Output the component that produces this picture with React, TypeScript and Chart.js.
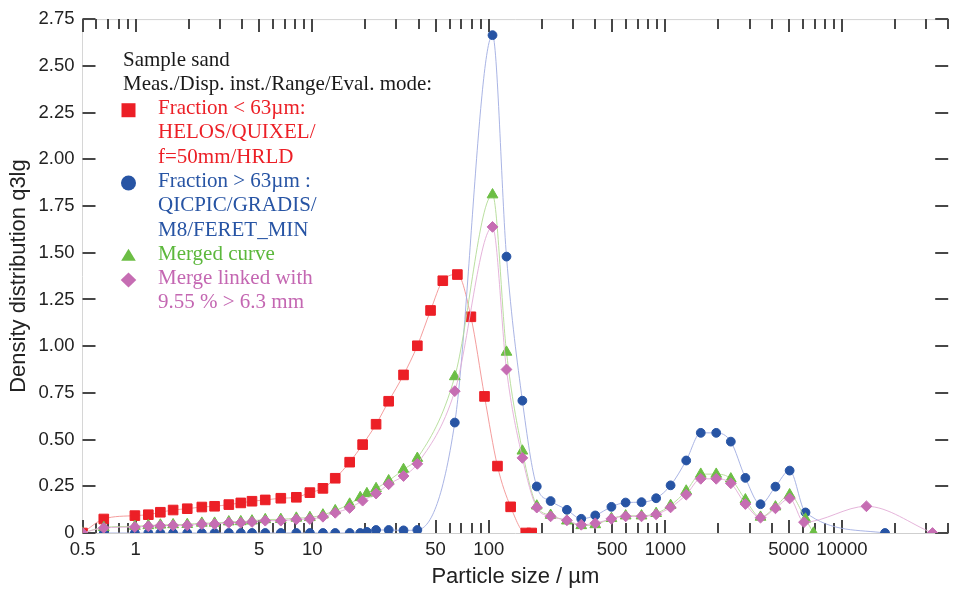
import React, { useEffect, useRef } from 'react';
import { Chart, registerables } from 'chart.js';

Chart.register(...registerables);

// ---------- data ----------
const redX = [0.5, 0.66, 0.99, 1.18, 1.38, 1.63, 1.96, 2.37, 2.8, 3.37, 3.94, 4.56, 5.42, 6.64, 8.13, 9.7, 11.5, 13.5, 16.3, 19.3, 23.0, 27.1, 32.9, 39.4, 46.8, 54.9, 66.4, 79.2, 94.6, 112, 133, 162, 175];
const redY = [0, 0.075, 0.093, 0.098, 0.111, 0.123, 0.130, 0.139, 0.143, 0.152, 0.161, 0.170, 0.177, 0.186, 0.191, 0.216, 0.239, 0.293, 0.379, 0.473, 0.582, 0.705, 0.846, 1.002, 1.191, 1.350, 1.383, 1.157, 0.731, 0.358, 0.140, 0, 0];

const blueX = [0.66, 0.99, 1.18, 1.38, 1.63, 1.96, 2.37, 2.8, 3.37, 3.94, 4.56, 5.42, 6.64, 8.13, 9.7, 11.5, 13.5, 16.3, 18.7, 20.4, 23.0, 27.1, 32.9, 39.4, 64.2, 105, 126, 155, 187, 224, 277, 334, 401, 495, 596, 733, 887, 1071, 1313, 1587, 1942, 2349, 2840, 3460, 4204, 5058, 6220, 17550];
const blueY = [0, 0, 0, 0, 0, 0, 0, 0, 0, 0, 0, 0, 0, 0, 0, 0, 0, 0, 0, 0.006, 0.016, 0.016, 0.014, 0.016, 0.591, 2.664, 1.479, 0.708, 0.249, 0.171, 0.124, 0.076, 0.094, 0.140, 0.163, 0.165, 0.186, 0.255, 0.388, 0.536, 0.536, 0.489, 0.295, 0.154, 0.248, 0.334, 0.110, 0];

const greenX = [0.5, 0.66, 0.99, 1.18, 1.38, 1.63, 1.96, 2.37, 2.8, 3.37, 3.94, 4.56, 5.42, 6.64, 8.13, 9.7, 11.5, 13.5, 16.3, 18.7, 20.4, 23.0, 27.1, 32.9, 39.4, 64.2, 105, 126, 155, 187, 224, 277, 334, 401, 495, 596, 733, 887, 1071, 1313, 1587, 1942, 2349, 2840, 3460, 4204, 5058, 6220, 6900];
const greenY = [0, 0.03, 0.036, 0.04, 0.043, 0.045, 0.046, 0.053, 0.053, 0.06, 0.061, 0.065, 0.072, 0.073, 0.08, 0.083, 0.097, 0.12, 0.155, 0.19, 0.211, 0.238, 0.28, 0.34, 0.40, 0.837, 1.810, 0.968, 0.439, 0.145, 0.095, 0.065, 0.04, 0.045, 0.078, 0.092, 0.092, 0.105, 0.148, 0.225, 0.315, 0.315, 0.29, 0.178, 0.085, 0.14, 0.205, 0.075, 0];

const pinkX = [0.5, 0.66, 0.99, 1.18, 1.38, 1.63, 1.96, 2.37, 2.8, 3.37, 3.94, 4.56, 5.42, 6.64, 8.13, 9.7, 11.5, 13.5, 16.3, 19.3, 23.0, 27.1, 32.9, 39.4, 64.2, 105, 126, 155, 187, 224, 277, 334, 401, 495, 596, 733, 887, 1071, 1313, 1587, 1942, 2349, 2840, 3460, 4204, 5058, 6100, 13770, 32600];
const pinkY = [0, 0.027, 0.032, 0.036, 0.039, 0.041, 0.041, 0.048, 0.048, 0.055, 0.055, 0.059, 0.066, 0.066, 0.073, 0.075, 0.087, 0.108, 0.134, 0.173, 0.211, 0.261, 0.305, 0.37, 0.759, 1.638, 0.875, 0.402, 0.136, 0.089, 0.068, 0.044, 0.052, 0.076, 0.089, 0.089, 0.100, 0.137, 0.205, 0.290, 0.290, 0.266, 0.155, 0.082, 0.132, 0.185, 0.058, 0.143, 0];

// ---------- axes ----------
const xMin = 0.5;
const xMax = 40000;
const xTickValues = [0.5, 0.6, 0.7, 0.8, 0.9, 1, 2, 3, 4, 5, 6, 7, 8, 9, 10, 20, 30, 40, 50, 60, 70, 80, 90, 100, 200, 300, 400, 500, 600, 700, 800, 900, 1000, 2000, 3000, 4000, 5000, 6000, 7000, 8000, 9000, 10000, 20000, 30000, 40000];
const xLabelValues = [0.5, 1, 5, 10, 50, 100, 500, 1000, 5000, 10000];
const yTickValues = [0, 0.25, 0.5, 0.75, 1, 1.25, 1.5, 1.75, 2, 2.25, 2.5, 2.75];

const xTitle = 'Particle size / µm';
const yTitle = 'Density distribution q3lg';

const legendHeader = ['Sample sand', 'Meas./Disp. inst./Range/Eval. mode:'];
const legendRedLines = ['Fraction < 63µm:', 'HELOS/QUIXEL/', 'f=50mm/HRLD'];
const legendBlueLines = ['Fraction > 63µm :', 'QICPIC/GRADIS/', 'M8/FERET_MIN'];
const legendGreenLines = ['Merged curve'];
const legendPinkLines = ['Merge linked with', '9.55 % > 6.3 mm'];

const RED = '#ec1f26';
const BLUE = '#2754a4';
const GREEN = '#6cbe45';
const PINK = '#c66db3';

const SANS = '"Liberation Sans", Arial, sans-serif';
const SERIF = '"Liberation Serif", "Times New Roman", serif';

const toPoints = (xs: number[], ys: number[]) => xs.map((x, i) => ({ x, y: ys[i] }));

const tickMarksPlugin = {
  id: 'tickMarks',
  beforeDatasetsDraw(chart: any) {
    const { ctx, chartArea, scales } = chart;
    const { left, right, top, bottom } = chartArea;
    const xs = scales.x;
    const ys = scales.y;
    ctx.save();
    ctx.strokeStyle = '#d2d2d2';
    ctx.lineWidth = 1;
    ctx.beginPath();
    ctx.moveTo(left, top + 0.5);
    ctx.lineTo(right, top + 0.5);
    ctx.stroke();
    ctx.strokeStyle = '#474747';
    ctx.lineWidth = 2;
    ctx.beginPath();
    for (const v of xTickValues) {
      const px = Math.round(xs.getPixelForValue(v));
      const len = xLabelValues.includes(v) ? 13 : 10;
      ctx.moveTo(px, top);
      ctx.lineTo(px, top + len);
      ctx.moveTo(px, bottom);
      ctx.lineTo(px, bottom - len);
    }
    for (const v of yTickValues) {
      const py = Math.round(ys.getPixelForValue(v));
      ctx.moveTo(left, py);
      ctx.lineTo(left + 13, py);
      ctx.moveTo(right - 13, py);
      ctx.lineTo(right, py);
    }
    ctx.stroke();
    ctx.restore();
  },
};

type Marker = 'square' | 'circle' | 'triangle' | 'diamond';

const drawMarker = (ctx: CanvasRenderingContext2D, kind: Marker, x: number, y: number, color: string) => {
  ctx.fillStyle = color;
  ctx.beginPath();
  if (kind === 'square') {
    ctx.rect(x - 7, y - 7, 14, 14);
  } else if (kind === 'circle') {
    ctx.arc(x, y, 7.5, 0, Math.PI * 2);
  } else if (kind === 'triangle') {
    ctx.moveTo(x, y - 7);
    ctx.lineTo(x + 7.3, y + 5);
    ctx.lineTo(x - 7.3, y + 5);
    ctx.closePath();
  } else {
    ctx.moveTo(x, y - 7.5);
    ctx.lineTo(x + 7.8, y);
    ctx.lineTo(x, y + 7.5);
    ctx.lineTo(x - 7.8, y);
    ctx.closePath();
  }
  ctx.fill();
};

const legendPlugin = {
  id: 'legendText',
  afterDraw(chart: any) {
    const ctx: CanvasRenderingContext2D = chart.ctx;
    ctx.save();
    ctx.font = `21px ${SERIF}`;
    ctx.textBaseline = 'alphabetic';
    ctx.textAlign = 'left';
    const base = 65.7;
    const step = 24.26;
    let line = 0;
    ctx.fillStyle = '#1a1a1a';
    for (const t of legendHeader) {
      ctx.fillText(t, 123, base + step * line);
      line++;
    }
    const groups: [string[], string, Marker][] = [
      [legendRedLines, RED, 'square'],
      [legendBlueLines, BLUE, 'circle'],
      [legendGreenLines, '#5cb83c', 'triangle'],
      [legendPinkLines, '#c467b2', 'diamond'],
    ];
    for (const [lines, color, marker] of groups) {
      const first = base + step * line;
      drawMarker(ctx, marker, 128.5, first - 4, marker === 'triangle' ? GREEN : marker === 'diamond' ? PINK : color);
      ctx.fillStyle = color;
      for (const t of lines) {
        ctx.fillText(t, 158, base + step * line);
        line++;
      }
    }
    ctx.restore();
  },
};

export default function App() {
  const ref = useRef<HTMLCanvasElement>(null);
  useEffect(() => {
    if (!ref.current) return;
    const commonLine = {
      borderWidth: 1,
      cubicInterpolationMode: 'monotone' as const,
      pointBorderWidth: 1,
      fill: false,
    };
    const chart = new Chart(ref.current, {
      type: 'line',
      data: {
        datasets: [
          {
            ...commonLine,
            label: 'Fraction < 63µm',
            data: toPoints(redX, redY),
            borderColor: 'rgba(242,140,140,0.85)',
            pointStyle: 'rect',
            pointRadius: 6.8,
            pointBackgroundColor: RED,
            pointBorderColor: RED,
            order: 3,
          },
          {
            ...commonLine,
            label: 'Fraction > 63µm',
            data: toPoints(blueX, blueY),
            borderColor: 'rgba(160,172,225,0.9)',
            pointStyle: 'circle',
            pointRadius: 4.4,
            pointBackgroundColor: BLUE,
            pointBorderColor: BLUE,
            order: 2,
          },
          {
            ...commonLine,
            label: 'Merged curve',
            data: toPoints(greenX, greenY),
            borderColor: 'rgba(178,220,150,0.9)',
            pointStyle: 'triangle',
            pointRadius: 6.2,
            pointBackgroundColor: GREEN,
            pointBorderColor: GREEN,
            order: 1,
          },
          {
            ...commonLine,
            label: 'Merge linked with 9.55 % > 6.3 mm',
            data: toPoints(pinkX, pinkY),
            borderColor: 'rgba(226,172,214,0.9)',
            pointStyle: 'rectRot',
            pointRadius: 5.4,
            pointBackgroundColor: PINK,
            pointBorderColor: PINK,
            order: 0,
          },
        ],
      },
      options: {
        animation: false,
        responsive: false,
        maintainAspectRatio: false,
        layout: { padding: { top: 19, right: 1, left: 0, bottom: 0 } },
        plugins: {
          legend: { display: false },
          tooltip: { enabled: false },
        },
        scales: {
          x: {
            type: 'logarithmic',
            min: xMin,
            max: xMax,
            afterBuildTicks: (s: any) => {
              s.ticks = xTickValues.map((v) => ({ value: v }));
            },
            afterFit: (s: any) => {
              s.height = 57;
            },
            grid: { display: false, drawTicks: false },
            border: { display: true, color: '#cfcfcf', width: 1 },
            ticks: {
              autoSkip: false,
              maxRotation: 0,
              minRotation: 0,
              padding: 6,
              color: '#222',
              font: { family: SANS, size: 18.5 },
              callback: (v: any) => (xLabelValues.includes(Number(v)) ? String(v) : ''),
            },
            title: {
              display: true,
              text: xTitle,
              color: '#222',
              font: { family: SANS, size: 22 },
              padding: { top: 0, bottom: 0 },
            },
          },
          y: {
            type: 'linear',
            min: 0,
            max: 2.75,
            afterBuildTicks: (s: any) => {
              s.ticks = yTickValues.map((v) => ({ value: v }));
            },
            afterFit: (s: any) => {
              s.width = 82.5;
            },
            grid: { display: false, drawTicks: false },
            border: { display: true, color: '#d6d6d6', width: 1 },
            ticks: {
              padding: 8,
              color: '#222',
              font: { family: SANS, size: 18.5 },
              callback: (v: any) => (Number(v) === 0 ? '0' : Number(v).toFixed(2)),
            },
            title: {
              display: true,
              text: yTitle,
              color: '#222',
              font: { family: SANS, size: 22 },
              padding: { top: 6, bottom: 0 },
            },
          },
        },
      },
      plugins: [tickMarksPlugin, legendPlugin],
    } as any);
    return () => chart.destroy();
  }, []);

  return (
    <div style={{ position: 'fixed', left: 0, top: 0, width: 953, height: 590, overflow: 'hidden', background: '#fff' }}>
      <canvas ref={ref} width={956} height={590} style={{ display: 'block', width: 956, height: 590 }} />
    </div>
  );
}
